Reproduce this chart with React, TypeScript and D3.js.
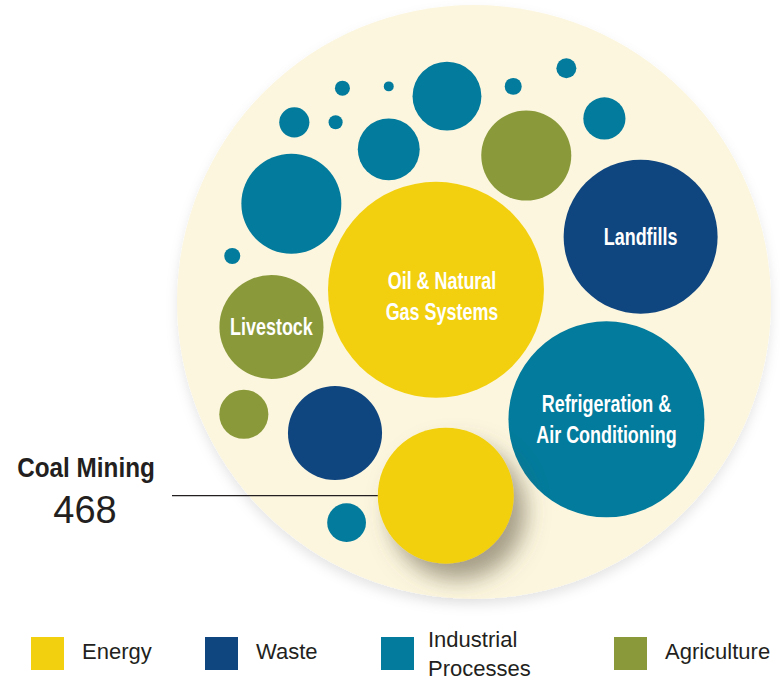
import React from "react";
import * as d3 from "d3";

// ---- data ----
const sources = [
  "Oil & Natural Gas Systems", "Landfills", "Refrigeration & Air Conditioning", "Livestock",
  "Coal Mining", "Waste (other)", "Agriculture (other)", "Industrial (other 1)",
  "Industrial (other 2)", "Industrial (other 3)", "Agriculture (other 2)", "Industrial (other 4)",
  "Industrial (other 5)", "Industrial (other 6)", "Industrial (other 7)", "Industrial (other 8)",
  "Industrial (other 9)", "Industrial (other 10)", "Industrial (other 11)", "Industrial (other 12)",
];
const sectors = [
  "Energy", "Waste", "Industrial Processes", "Agriculture",
  "Energy", "Waste", "Agriculture", "Industrial Processes",
  "Industrial Processes", "Industrial Processes", "Agriculture", "Industrial Processes",
  "Industrial Processes", "Industrial Processes", "Industrial Processes", "Industrial Processes",
  "Industrial Processes", "Industrial Processes", "Industrial Processes", "Industrial Processes",
];
const values = [1180, 600, 972, 274, 468, 224, 61, 38, 253, 6.5, 205, 97, 120, 23, 5, 5.7, 2.5, 7.3, 10.1, 45];
// layout hints, in units of the enclosing circle's radius (centre = 0,0)
const layoutX = [-0.128, 0.561, 0.446, -0.682, -0.095, -0.468, -0.775, -0.429, -0.615, -0.814, 0.176, -0.287, -0.091, -0.605, -0.466, -0.443, -0.287, 0.132, 0.311, 0.439];
const layoutY = [-0.041, -0.22, 0.395, 0.084, 0.652, 0.441, 0.378, 0.743, -0.331, -0.155, -0.493, -0.514, -0.693, -0.605, -0.605, -0.72, -0.726, -0.726, -0.787, -0.618];
const bubbleLabels = ["Oil & Natural|Gas Systems", "Landfills", "Refrigeration &|Air Conditioning", "Livestock", "", "", "", "", "", "", "", "", "", "", "", "", "", "", "", ""];
const legendItems = ["Energy", "Waste", "Industrial|Processes", "Agriculture"];
const calloutName = "Coal Mining";
const calloutIndex = 4;

const colors: Record<string, string> = {
  Energy: "#f2d00f",
  Waste: "#10467f",
  "Industrial Processes": "#027b9c",
  Agriculture: "#8a9a3a",
};
const legendKeys = ["Energy", "Waste", "Industrial Processes", "Agriculture"];

const W = 780, H = 681;
const cx = 474, cy = 302, R = 297;
const boldFont = "'Liberation Sans', Arial, sans-serif";
const regFont = "'Liberation Sans', Arial, sans-serif";

export default function App() {
  const x = d3.scaleLinear().domain([-1, 1]).range([cx - R, cx + R]);
  const y = d3.scaleLinear().domain([-1, 1]).range([cy - R, cy + R]);
  const r = d3.scaleSqrt().domain([0, 468]).range([0, 68]);
  const color = d3.scaleOrdinal<string, string>().domain(legendKeys).range(legendKeys.map((k) => colors[k]));
  const legendX = d3.scaleOrdinal<string, number>().domain(legendKeys).range([31, 205, 381, 614]);

  const nodes = values.map((v, i) => ({
    i, v, x: x(layoutX[i]), y: y(layoutY[i]), r: r(v), sector: sectors[i], label: bubbleLabels[i],
  }));
  const coal = nodes[calloutIndex];

  return (
    <svg width={W} height={H} style={{ position: "absolute", left: 0, top: 0, background: "#fff" }}>
      <defs>
        <filter id="bgShadow" x="-20%" y="-20%" width="140%" height="140%">
          <feDropShadow dx="0" dy="6" stdDeviation="6" floodColor="#000" floodOpacity="0.10" />
        </filter>
        <filter id="coalShadow" x="-50%" y="-50%" width="200%" height="200%">
          <feDropShadow dx="12" dy="16" stdDeviation="11" floodColor="#5e5640" floodOpacity="0.55" />
        </filter>
      </defs>
      <circle cx={cx} cy={cy} r={R} fill="#fcf6df" filter="url(#bgShadow)" />
      {nodes.map((n) => (
        <circle key={n.i} cx={n.x} cy={n.y} r={n.r} fill={color(n.sector)}
          filter={n.i === calloutIndex ? "url(#coalShadow)" : undefined} />
      ))}
      {nodes.filter((n) => n.label).map((n) => {
        const lines = n.label.split("|");
        const lh = 31;
        const off = n.i === 0 ? 6 : 0;
        return (
          <g key={"t" + n.i} transform={`translate(${n.x + off},${n.y + off}) scale(0.78,1)`}>
            <text textAnchor="middle" fill="#fff"
              style={{ fontFamily: boldFont, fontWeight: 700, fontSize: 23 }}>
              {lines.map((l, j) => (
                <tspan key={j} x={0} y={(j - (lines.length - 1) / 2) * lh} dy="0.36em">{l}</tspan>
              ))}
            </text>
          </g>
        );
      })}
      {/* callout */}
      <line x1={172} x2={coal.x - coal.r} y1={coal.y} y2={coal.y} stroke="#231f20" strokeWidth={1.3} />
      <g transform="translate(86,477) scale(0.9,1)">
        <text x={0} y={0} textAnchor="middle" fill="#231f20"
          style={{ fontFamily: boldFont, fontWeight: 700, fontSize: 27 }}>{calloutName}</text>
      </g>
      <text x={85} y={523} textAnchor="middle" fill="#231f20"
        style={{ fontFamily: regFont, fontWeight: 300, fontSize: 38 }}>{d3.format(",")(coal.v)}</text>
      {/* legend */}
      {legendKeys.map((k, i) => {
        const lx = legendX(k);
        const lines = legendItems[i].split("|");
        return (
          <g key={k}>
            <rect x={lx} y={637} width={33} height={33} fill={color(k)} />
            <text fill="#231f20" style={{ fontFamily: regFont, fontSize: 22 }}>
              {lines.map((l, j) => (
                <tspan key={j} x={lx + (i === 2 ? 47 : 51)} y={(lines.length > 1 ? 654 : 651) + (j - (lines.length - 1) / 2) * 29} dy="0.36em">{l}</tspan>
              ))}
            </text>
          </g>
        );
      })}
    </svg>
  );
}
